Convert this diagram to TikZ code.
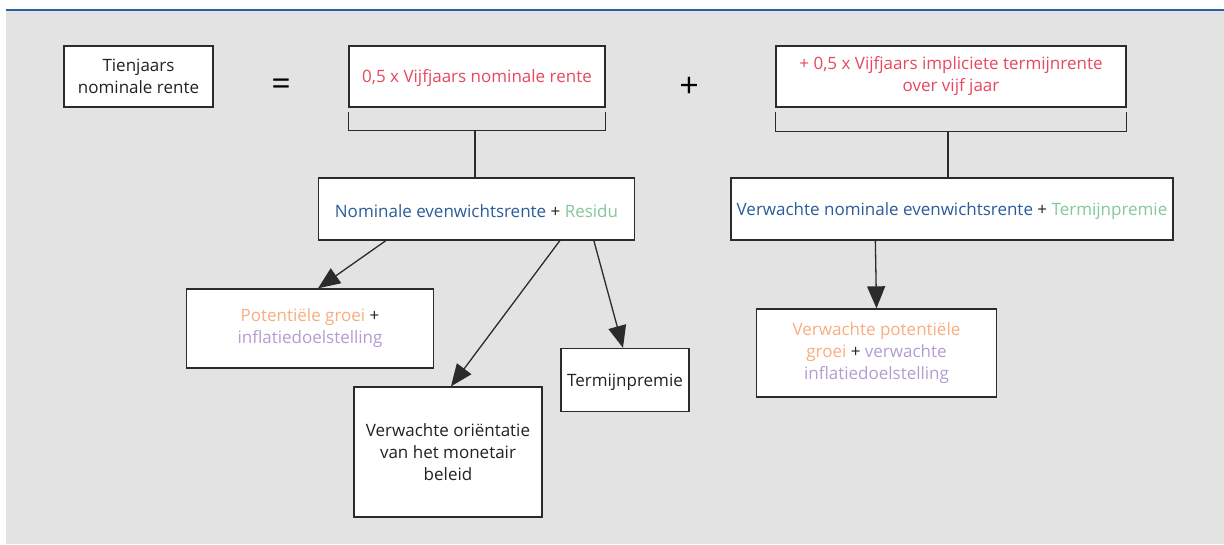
\documentclass[tikz,border=0pt]{standalone}
\usepackage{fontspec}
\setmainfont{Open Sans}
\usetikzlibrary{arrows.meta,calc}
\definecolor{bgray}{HTML}{E3E3E3}
\definecolor{topblue}{HTML}{2F5EA8}
\definecolor{tred}{HTML}{E8475F}
\definecolor{tblue}{HTML}{2A5C9A}
\definecolor{tgreen}{HTML}{86C79C}
\definecolor{torange}{HTML}{F8AE80}
\definecolor{tpurple}{HTML}{B39DD2}
\definecolor{edge}{HTML}{2B2B2B}
\definecolor{tblack}{HTML}{222222}
\tikzset{
  box/.style={draw=edge, line width=1.3pt, fill=white, align=center, inner sep=2pt,
    font=\fontsize{17}{22}\selectfont, text=tblack,
    execute at begin node={\rule{0pt}{17pt}}},
  conn/.style={draw=edge, line width=1.3pt},
  arr/.style={conn, -{Triangle[length=22pt,width=18pt]}},
  sym/.style={font=\fontsize{34}{34}\selectfont, text=black}
}
\begin{document}
\begin{tikzpicture}[x=1pt,y=-1pt]
\useasboundingbox (0,0) rectangle (1224,544);
\fill[white] (0,0) rectangle (1224,544);
\fill[bgray] (6,11) rectangle (1224,544);
\draw[topblue, line width=2pt] (6,10) -- (1224,10);

% top row
\node[box, minimum width=149pt, minimum height=61pt] (tien) at (138.5,76.5) {Tienjaars\\nominale rente};
\node[sym] (eq) at (281,87) {=};
\node[box, minimum width=256pt, minimum height=61pt, text=tred] (vijf) at (477,76.5) {0,5 x Vijfjaars nominale rente};
\node[sym] (plus) at (689,87) {+};
\node[box, minimum width=350pt, minimum height=61pt, text=tred] (impl) at (951,76.5) {+ 0,5 x Vijfjaars impliciete termijnrente\\over vijf jaar};

% brackets
\coordinate (bl1) at ($(vijf.south west)+(0,4)$);
\coordinate (br1) at ($(vijf.south east)+(0,4)$);
\coordinate (bm1) at ($(vijf.south)+(-2,23)$);
\draw[conn] (bl1) -- ++(0,19) -| (br1);
\coordinate (bl2) at ($(impl.south west)+(0,4)$);
\coordinate (br2) at ($(impl.south east)+(0,4)$);
\coordinate (bm2) at ($(impl.south)+(-3,24)$);
\draw[conn] (bl2) -- ++(0,20) -| (br2);

% second row
\node[box, minimum width=316pt, minimum height=62pt] (nom) at (476.5,209)
  {\textcolor{tblue}{Nominale evenwichtsrente} + \textcolor{tgreen}{Residu}};
\node[box, minimum width=442pt, minimum height=62pt] (vnom) at (952,209)
  {\textcolor{tblue}{Verwachte nominale evenwichtsrente} + \textcolor{tgreen}{Termijnpremie}};
\draw[conn] (bm1) -- (bm1 |- nom.north);
\draw[conn] (bm2) -- (bm2 |- vnom.north);

% third row
\node[box, minimum width=247pt, minimum height=79pt] (pot) at (310,328.5)
  {\textcolor{torange}{Potentiële groei} +\\\textcolor{tpurple}{inflatiedoelstelling}};
\node[box, minimum width=128pt, minimum height=63pt] (term) at (625,380) {Termijnpremie};
\node[box, minimum width=188pt, minimum height=130pt] (ori) at (448,452)
  {Verwachte oriëntatie\\van het monetair\\beleid};
\node[box, minimum width=240pt, minimum height=88pt] (vpot) at (876.5,353)
  {\textcolor{torange}{Verwachte potentiële}\\\textcolor{torange}{groei} + \textcolor{tpurple}{verwachte}\\\textcolor{tpurple}{inflatiedoelstelling}};

% arrows
\draw[arr] ($(nom.south west)+(68,0)$) -- ($(pot.north)+(8,0)$);
\draw[arr] ($(nom.south west)+(242,0)$) -- ($(ori.north)+(3,0)$);
\draw[arr] ($(nom.south west)+(276,0)$) -- ($(term.north)+(-2,0)$);
\draw[arr] ($(vnom.south west)+(145,0)$) -- (vpot.north);
\end{tikzpicture}
\end{document}
